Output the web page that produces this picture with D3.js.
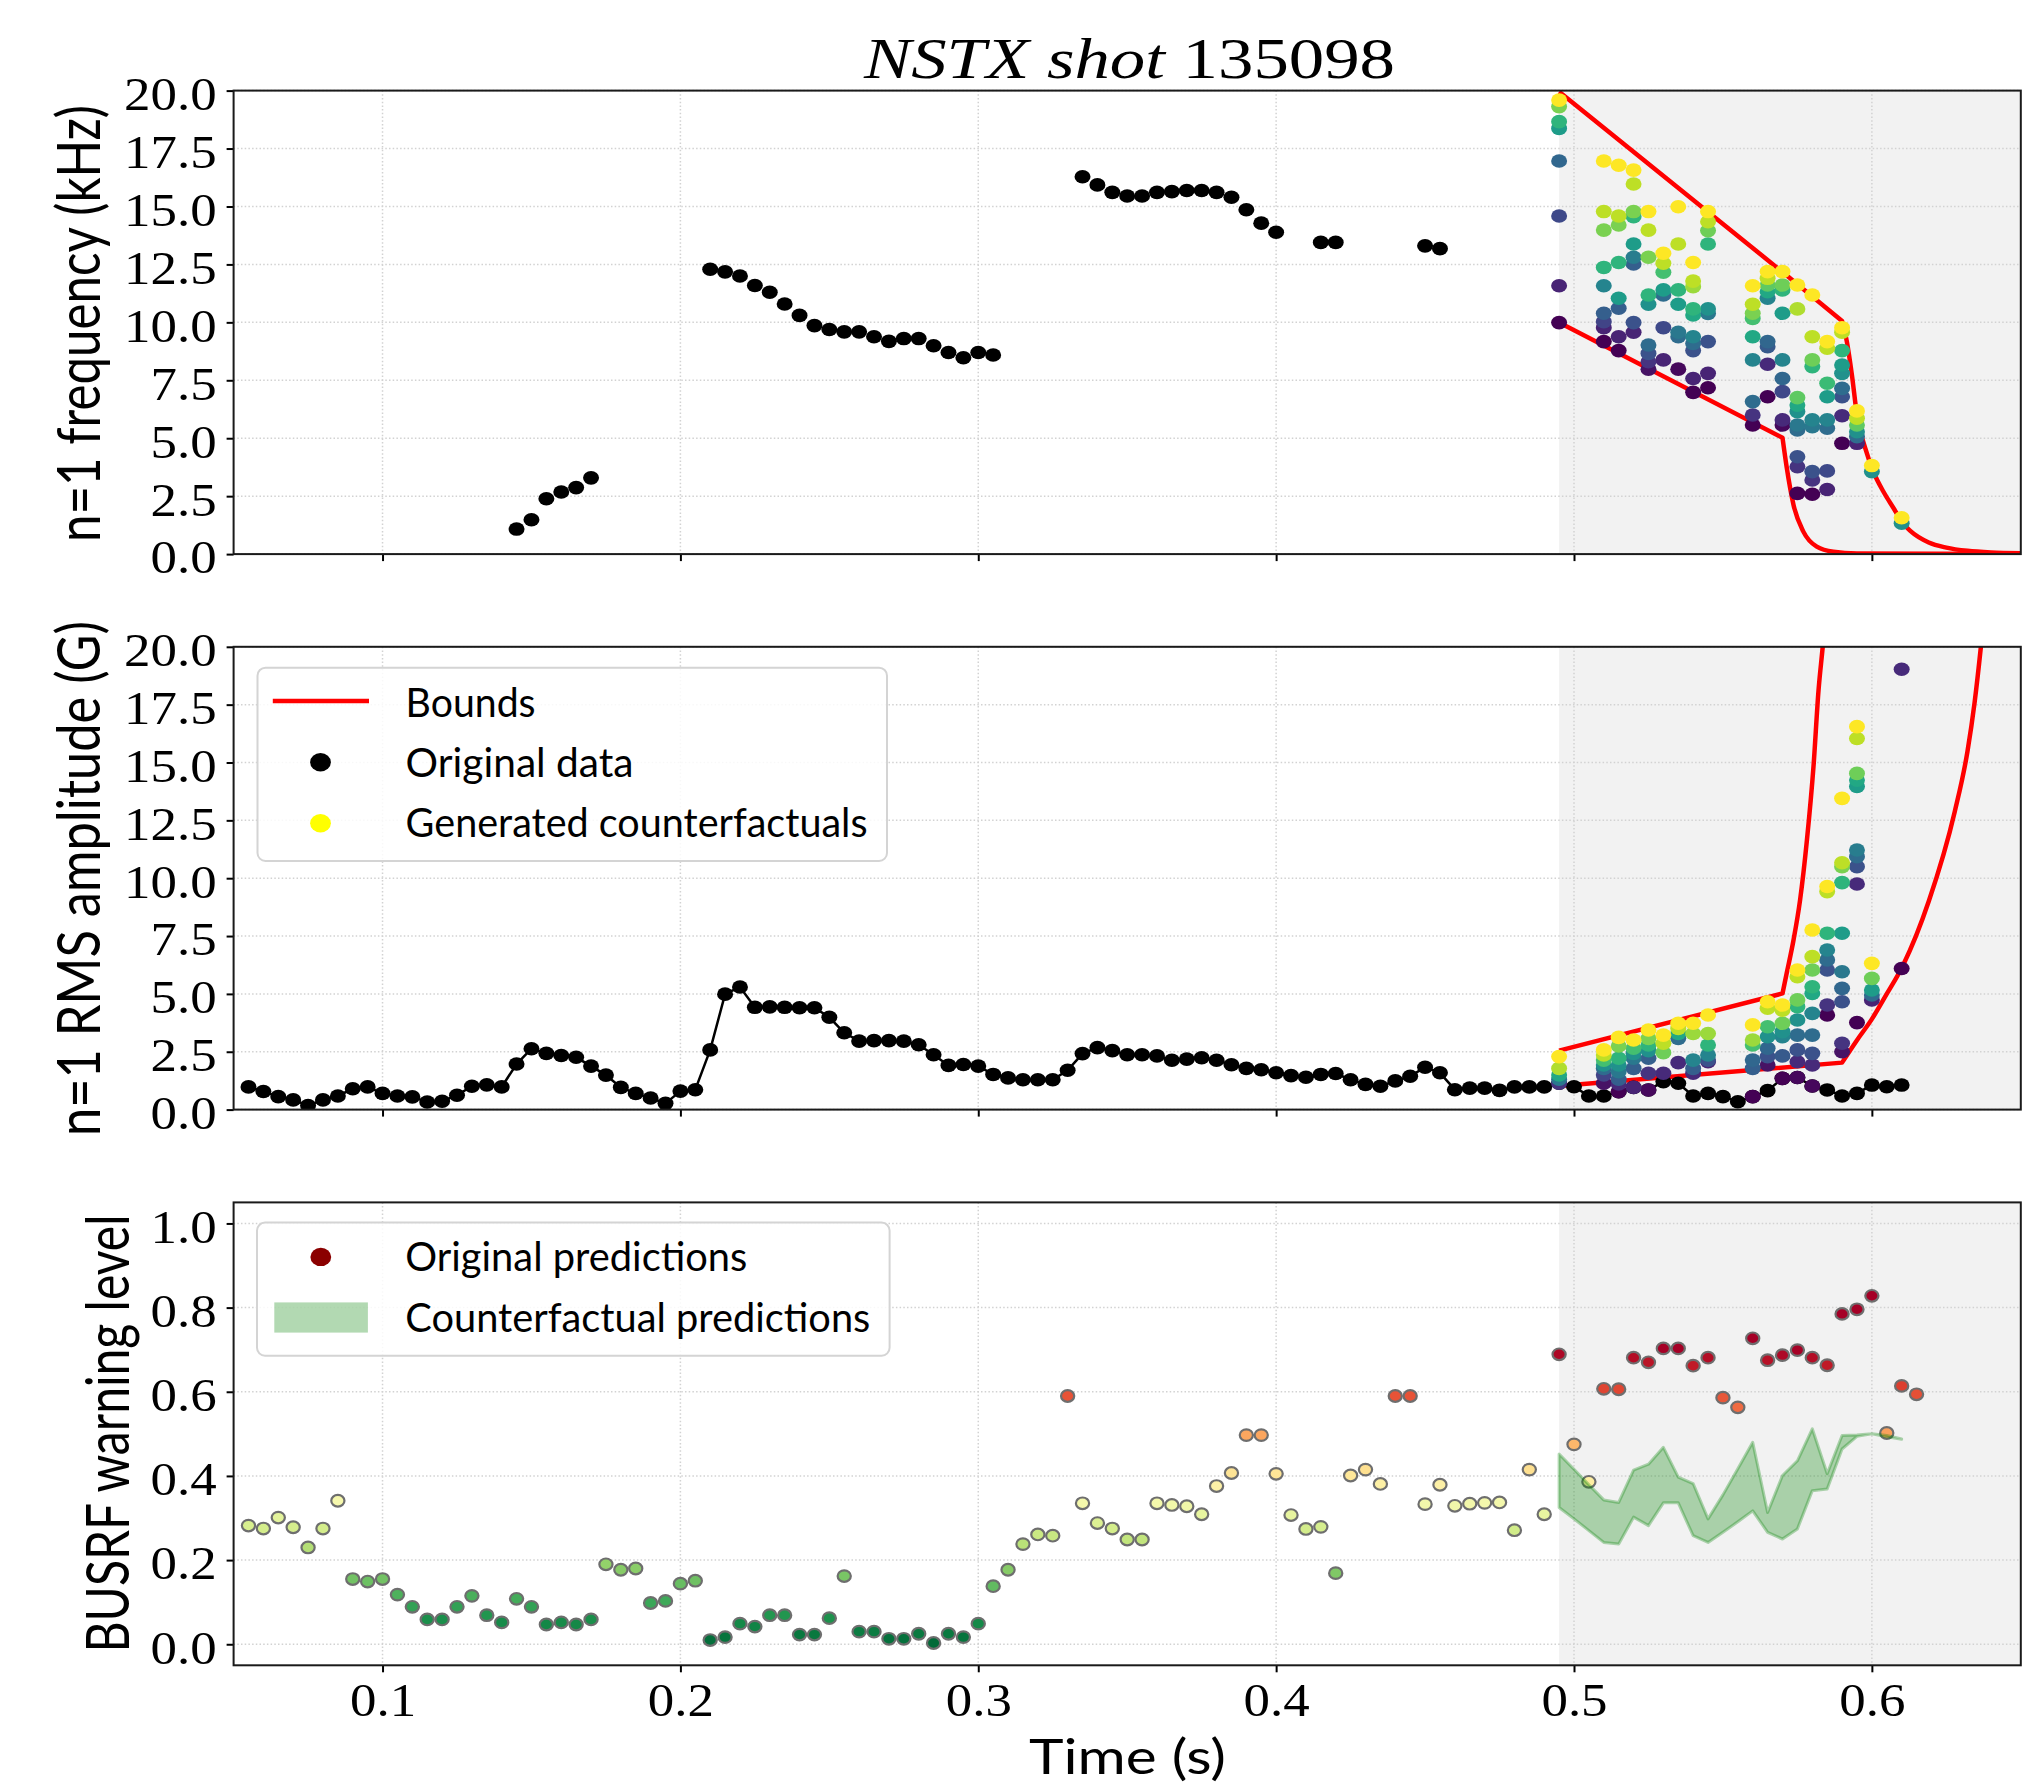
<!DOCTYPE html>
<html>
<head>
<meta charset="utf-8">
<script src="https://cdn.jsdelivr.net/npm/d3@7"></script>
<style>
  body { margin: 0; background: #fff; }
</style>
</head>
<body>
<svg id="chart" width="2024" height="1788"></svg>
<script>
// ---- data ----
var dt = 0.005;

// n=1 frequency, original data (kHz)
var freqTimes = [0.145, 0.15, 0.155, 0.16, 0.165, 0.17,
  0.21, 0.215, 0.22, 0.225, 0.23, 0.235, 0.24, 0.245, 0.25, 0.255, 0.26, 0.265, 0.27, 0.275, 0.28, 0.285, 0.29, 0.295, 0.3, 0.305,
  0.335, 0.34, 0.345, 0.35, 0.355, 0.36, 0.365, 0.37, 0.375, 0.38, 0.385, 0.39, 0.395, 0.4,
  0.415, 0.42, 0.45, 0.455];
var freqValues = [1.08, 1.48, 2.39, 2.68, 2.87, 3.29,
  12.29, 12.18, 12.0, 11.59, 11.3, 10.79, 10.3, 9.86, 9.69, 9.59, 9.59, 9.38, 9.18, 9.3, 9.3, 8.99, 8.7, 8.47, 8.7, 8.59,
  16.28, 15.93, 15.61, 15.45, 15.45, 15.61, 15.64, 15.69, 15.69, 15.61, 15.4, 14.86, 14.28, 13.89,
  13.45, 13.45, 13.3, 13.18];

// n=1 RMS amplitude, original data (G), every 5 ms from 0.055 s
var ampStart = 0.055;
var ampValues = [0.98, 0.78, 0.56, 0.42, 0.18, 0.42, 0.59, 0.9, 0.98, 0.7,
  0.59, 0.55, 0.33, 0.36, 0.62, 1.01, 1.07, 0.98, 1.97, 2.63,
  2.43, 2.34, 2.26, 1.88, 1.49, 0.96, 0.7, 0.5, 0.27, 0.8,
  0.86, 2.58, 4.99, 5.3, 4.42, 4.44, 4.42, 4.4, 4.4, 3.99,
  3.32, 2.96, 2.98, 2.98, 2.96, 2.8, 2.37, 1.91, 1.95, 1.88,
  1.52, 1.37,
  1.29, 1.29, 1.29, 1.7, 2.42, 2.68, 2.55, 2.37, 2.37, 2.32, 2.13, 2.18, 2.24, 2.13, 1.94, 1.78, 1.72, 1.59,
  1.47, 1.4, 1.52, 1.56, 1.29, 1.09, 1.01, 1.24, 1.44, 1.83, 1.59, 0.86, 0.93, 0.93, 0.83, 0.98, 0.98, 0.98,
  1.14, 0.99, 0.59, 0.59, 0.77, 0.96, 0.85, 1.21, 1.14, 0.59, 0.7, 0.56, 0.34, 0.56, 0.82, 1.35, 1.39, 1.02,
  0.85, 0.59, 0.7, 1.06, 0.99, 1.06];

// BUSRF warning level, original predictions, every 5 ms from 0.055 s
var warnStart = 0.055;
var warnValues = [0.282, 0.275, 0.301, 0.278, 0.23, 0.275, 0.341, 0.155, 0.149, 0.155,
  0.118, 0.089, 0.059, 0.059, 0.089, 0.115, 0.069, 0.052, 0.108, 0.089,
  0.047, 0.052, 0.047, 0.059, 0.19, 0.177, 0.18, 0.098, 0.103, 0.144,
  0.151, 0.01, 0.017, 0.049, 0.042, 0.069, 0.069, 0.023, 0.023, 0.062,
  0.162, 0.03, 0.03, 0.013, 0.013, 0.025, 0.003, 0.025, 0.017, 0.049,
  0.138, 0.177,
  0.238, 0.261, 0.258, 0.59, 0.335, 0.288, 0.275, 0.249, 0.249, 0.335,
  0.331, 0.328, 0.309, 0.376, 0.407, 0.497, 0.497, 0.405, 0.307, 0.274,
  0.279, 0.169, 0.401, 0.415, 0.381, 0.59, 0.59, 0.333, 0.379, 0.329,
  0.334, 0.336, 0.337, 0.271, 0.415, 0.309, 0.689, 0.475, 0.386, 0.607,
  0.606, 0.681, 0.67, 0.703, 0.703, 0.662, 0.681, 0.586, 0.563, 0.727,
  0.675, 0.687, 0.699, 0.681, 0.663, 0.785, 0.796, 0.828, 0.502, 0.614, 0.594];

// counterfactual prediction band
var bandTimes = [0.495, 0.5, 0.505, 0.51, 0.515, 0.52, 0.525, 0.53, 0.535, 0.54, 0.545, 0.55,
  0.555, 0.56, 0.565, 0.57, 0.575, 0.58, 0.585, 0.59, 0.595, 0.6, 0.605, 0.61];
var bandUpper = [0.452, 0.416, 0.379, 0.343, 0.337, 0.414, 0.428, 0.468, 0.397, 0.382, 0.298, 0.355,
  0.417, 0.48, 0.313, 0.401, 0.436, 0.512, 0.405, 0.496, 0.497, 0.5, 0.496, 0.488];
var bandLower = [0.325, 0.298, 0.27, 0.242, 0.238, 0.302, 0.282, 0.336, 0.336, 0.258, 0.242, 0.266,
  0.291, 0.317, 0.266, 0.25, 0.274, 0.365, 0.369, 0.464, 0.494, 0.5, 0.493, 0.487];

// bounds (straight up to the kink, smooth after it)
var freqUpperT = [0.495, 0.57, 0.59, 0.5916, 0.5933, 0.595, 0.5978, 0.6005, 0.6039, 0.6073, 0.6106, 0.6129, 0.6191, 0.625, 0.6321, 0.64, 0.65];
var freqUpperV = [19.95, 12.17, 10.06, 9.17, 7.73, 6.0, 4.56, 3.56, 2.69, 1.98, 1.3, 1.0, 0.5, 0.28, 0.14, 0.07, 0.04];
var freqLowerT = [0.495, 0.57, 0.5714, 0.5737, 0.577, 0.5815, 0.5871, 0.595, 0.65];
var freqLowerV = [9.99, 5.02, 3.75, 2.12, 0.97, 0.32, 0.1, 0.03, 0.0];
var ampUpperT = [0.495, 0.57, 0.5714, 0.5737, 0.5759, 0.5782, 0.5804, 0.5821, 0.5835, 0.585];
var ampUpperV = [2.55, 5.02, 5.89, 7.33, 9.06, 11.65, 14.82, 18.13, 20.0, 22.2];
var ampLowerT = [0.495, 0.59, 0.595, 0.6, 0.605, 0.6104, 0.6191, 0.6278, 0.6321, 0.6345, 0.6366, 0.638];
var ampLowerV = [1.02, 2.03, 3.0, 3.91, 5.0, 6.22, 9.0, 12.86, 15.48, 17.6, 20.0, 21.8];

// generated counterfactuals: per time, [value, colour level 0..1]
var cfTimes = [0.495, 0.51, 0.515, 0.52, 0.525, 0.53, 0.535, 0.54, 0.545, 0.56,
  0.565, 0.57, 0.575, 0.58, 0.585, 0.59, 0.595, 0.6, 0.61];
var cfFreq = [
  [[19.59, 1], [19.31, 0.8], [18.66, 0.65], [18.37, 0.55], [16.96, 0.33], [14.59, 0.22], [11.58, 0.1], [9.99, 0]],
  [[16.96, 1], [14.78, 0.9], [13.98, 0.8], [12.37, 0.65], [11.58, 0.45], [10.39, 0.3], [10.03, 0.2], [9.77, 0.1], [9.17, 0]],
  [[16.78, 1], [14.59, 0.9], [14.2, 0.8], [12.58, 0.65], [11.04, 0.55], [10.61, 0.3], [9.38, 0.1], [8.78, 0]],
  [[16.57, 1], [15.97, 0.9], [14.78, 0.8], [14.56, 0.65], [13.38, 0.55], [12.81, 0.42], [12.52, 0.3], [9.99, 0.25], [9.57, 0.1]],
  [[14.78, 1], [13.98, 0.9], [12.81, 0.8], [11.18, 0.65], [10.78, 0.5], [9.02, 0.35], [8.66, 0.25], [8.3, 0.15], [7.98, 0.05]],
  [[12.98, 1], [12.55, 0.9], [12.16, 0.7], [11.4, 0.55], [11.18, 0.35], [9.77, 0.22], [8.38, 0.1]],
  [[14.99, 1], [13.38, 0.9], [11.4, 0.65], [10.78, 0.55], [9.57, 0.4], [9.38, 0.35], [7.98, 0.02]],
  [[12.58, 1], [11.78, 0.9], [11.54, 0.85], [10.58, 0.65], [10.32, 0.6], [9.38, 0.45], [9.09, 0.35], [8.78, 0.25], [7.58, 0.1], [6.98, 0]],
  [[14.78, 1], [14.34, 0.9], [13.96, 0.78], [13.38, 0.65], [10.58, 0.5], [10.38, 0.4], [9.17, 0.25], [7.8, 0.1], [7.18, 0]],
  [[11.58, 1], [10.78, 0.9], [10.39, 0.8], [10.17, 0.7], [9.38, 0.6], [8.38, 0.45], [6.58, 0.35], [6.0, 0.15], [5.57, 0]],
  [[12.19, 1], [11.9, 0.9], [11.61, 0.75], [11.32, 0.6], [11.04, 0.45], [9.17, 0.33], [8.95, 0.28], [8.19, 0.12], [6.79, 0]],
  [[12.19, 1], [11.61, 0.78], [11.4, 0.65], [10.39, 0.55], [8.38, 0.45], [7.58, 0.33], [7.01, 0.22], [5.79, 0.12], [5.57, 0.02]],
  [[11.61, 1], [10.58, 0.88], [6.75, 0.75], [6.43, 0.6], [6.15, 0.5], [5.57, 0.4], [5.36, 0.35], [4.2, 0.25], [3.77, 0.15], [2.62, 0]],
  [[11.18, 1], [9.38, 0.9], [8.38, 0.78], [8.09, 0.65], [5.79, 0.45], [5.5, 0.4], [3.56, 0.25], [3.2, 0.15], [2.58, 0]],
  [[9.17, 1], [8.88, 0.9], [7.37, 0.68], [6.79, 0.55], [5.79, 0.45], [5.43, 0.35], [3.59, 0.22], [2.79, 0.1]],
  [[9.77, 1], [9.57, 0.9], [8.78, 0.65], [8.16, 0.55], [7.8, 0.5], [7.15, 0.35], [6.79, 0.25], [5.97, 0.12], [4.78, 0]],
  [[6.18, 1], [5.86, 0.9], [5.57, 0.75], [5.28, 0.5], [5.07, 0.35], [4.78, 0.1]],
  [[3.82, 1], [3.56, 0.5]],
  [[1.57, 1], [1.33, 0.5]]
];
var cfAmp = [
  [[2.29, 1], [1.78, 0.88], [1.5, 0.6], [1.31, 0.4], [1.14, 0.15]],
  [[2.58, 1], [2.36, 0.9], [2.14, 0.7], [1.93, 0.5], [1.78, 0.35], [1.5, 0.2], [1.14, 0.05]],
  [[3.12, 1], [2.75, 0.8], [2.22, 0.65], [1.93, 0.5], [1.64, 0.4], [1.31, 0.3], [1.11, 0.12], [0.77, 0]],
  [[3.01, 1], [2.65, 0.7], [2.43, 0.5], [2.22, 0.4], [1.78, 0.3], [0.96, 0.1]],
  [[3.44, 1], [3.08, 0.8], [2.79, 0.65], [2.55, 0.5], [2.22, 0.3], [1.57, 0.15], [0.85, 0.02]],
  [[3.22, 1], [2.87, 0.9], [2.46, 0.78], [1.57, 0.12]],
  [[3.73, 1], [3.51, 0.9], [3.29, 0.6], [3.08, 0.35], [2.03, 0.12]],
  [[3.73, 1], [3.29, 0.85], [2.14, 0.45], [1.78, 0.3], [1.57, 0.12]],
  [[4.09, 1], [3.29, 0.85], [2.79, 0.65], [2.36, 0.45], [2.14, 0.25], [2.07, 0.1]],
  [[3.66, 1], [3.01, 0.85], [2.79, 0.7], [2.14, 0.33], [1.78, 0.3], [0.56, 0]],
  [[4.66, 1], [4.38, 0.9], [3.58, 0.7], [3.15, 0.5], [2.65, 0.33], [2.29, 0.25], [1.93, 0.05]],
  [[4.52, 1], [4.3, 0.9], [3.73, 0.78], [3.37, 0.5], [3.15, 0.45], [2.32, 0.28], [1.35, 0]],
  [[6.03, 1], [5.74, 0.9], [4.74, 0.78], [4.45, 0.65], [3.87, 0.5], [3.22, 0.35], [2.58, 0.25], [2.07, 0.12], [1.39, 0.02]],
  [[7.76, 1], [6.61, 0.9], [6.03, 0.78], [5.31, 0.65], [5.02, 0.6], [4.16, 0.45], [3.22, 0.35], [2.43, 0.25], [1.93, 0.12], [1.02, 0.02]],
  [[9.64, 1], [9.42, 0.9], [7.62, 0.65], [6.9, 0.45], [6.47, 0.35], [6.03, 0.25], [4.52, 0.15], [4.09, 0]],
  [[13.45, 1], [10.67, 0.9], [10.5, 0.8], [9.81, 0.65], [7.62, 0.55], [5.96, 0.4], [5.24, 0.33], [4.66, 0.25], [2.87, 0.15], [2.5, 0.05]],
  [[16.55, 1], [16.04, 0.9], [14.53, 0.78], [14.24, 0.6], [13.96, 0.55], [11.22, 0.42], [10.93, 0.35], [10.5, 0.25], [9.75, 0.12], [3.76, 0]],
  [[6.32, 1], [5.67, 0.78], [5.17, 0.55], [4.95, 0.35], [4.74, 0.1]],
  [[19.03, 0.12], [6.1, 0]]
];

var xTicks = [0.1, 0.2, 0.3, 0.4, 0.5, 0.6];
var rangeTicks = [0, 2.5, 5, 7.5, 10, 12.5, 15, 17.5, 20];
var warnTicks = [0, 0.2, 0.4, 0.6, 0.8, 1.0];
var shadeFrom = 0.495;

// ---- layout ----
var svg = d3.select("#chart");
var xLeft = 233.6, xRight = 2020.8;
var x = d3.scaleLinear().domain([0.05, 0.65]).range([xLeft, xRight]);

var serif = "'Liberation Serif', 'DejaVu Serif', serif";
var sans = "Lato, 'Open Sans', 'DejaVu Sans', sans-serif";

svg.append("rect").attr("width", 2024).attr("height", 1788).attr("fill", "#fff");

function makePanel(id, top, bottom, yDomain, yTicks) {
  var y = d3.scaleLinear().domain(yDomain).range([bottom, top]);
  var g = svg.append("g").attr("id", id);

  svg.append("clipPath").attr("id", id + "-clip").append("rect")
    .attr("x", xLeft).attr("y", top)
    .attr("width", xRight - xLeft).attr("height", bottom - top);

  g.append("rect")
    .attr("x", x(shadeFrom)).attr("y", top)
    .attr("width", xRight - x(shadeFrom)).attr("height", bottom - top)
    .attr("fill", "#f2f2f2");

  g.selectAll(".vgrid").data(xTicks).enter().append("line")
    .attr("x1", function(d) { return x(d); }).attr("x2", function(d) { return x(d); })
    .attr("y1", top).attr("y2", bottom);
  g.selectAll(".hgrid").data(yTicks).enter().append("line")
    .attr("x1", xLeft).attr("x2", xRight)
    .attr("y1", function(d) { return y(d); }).attr("y2", function(d) { return y(d); });
  g.selectAll("line")
    .attr("stroke", "#d2d2d2").attr("stroke-width", 1.5).attr("stroke-dasharray", "1.5,2.2");

  var plot = g.append("g").attr("clip-path", "url(#" + id + "-clip)");
  return { g: g, plot: plot, y: y, top: top, bottom: bottom };
}

function finishPanel(p, yTicks, yFmt, showXLabels) {
  var ax = p.g.append("g").attr("transform", "translate(" + xLeft + ",0)")
    .call(d3.axisLeft(p.y).tickValues(yTicks).tickSize(7).tickSizeOuter(0).tickFormat(yFmt));
  ax.select(".domain").remove();
  ax.selectAll("line").attr("stroke", "#000").attr("stroke-width", 2);
  ax.attr("font-family", serif).attr("font-size", 46);
  ax.selectAll("text").attr("x", -14.8).attr("dy", "0.41em")
    .attr("transform", "scale(1.15,1)").attr("fill", "#000");

  var bx = p.g.append("g").attr("transform", "translate(0," + p.bottom + ")")
    .call(d3.axisBottom(x).tickValues(xTicks).tickSize(7).tickSizeOuter(0)
      .tickFormat(showXLabels ? d3.format(".1f") : ""));
  bx.select(".domain").remove();
  bx.selectAll("line").attr("stroke", "#000").attr("stroke-width", 2);
  bx.attr("font-family", serif).attr("font-size", 46);
  bx.selectAll("text").attr("y", 51.2).attr("dy", 0)
    .attr("transform", "scale(1.15,1)").attr("fill", "#000");

  p.g.append("rect")
    .attr("x", xLeft).attr("y", p.top)
    .attr("width", xRight - xLeft).attr("height", p.bottom - p.top)
    .attr("fill", "none").attr("stroke", "#1a1a1a").attr("stroke-width", 2);
}

// straight segment up to the kink, smooth curve after it
function boundLine(p, ts, vs, kink) {
  var pts = ts.map(function(t, i) { return [t, vs[i]]; });
  var straight = d3.line().x(function(d) { return x(d[0]); }).y(function(d) { return p.y(d[1]); });
  var smooth = d3.line().curve(d3.curveMonotoneX)
    .x(function(d) { return x(d[0]); }).y(function(d) { return p.y(d[1]); });
  var d = straight(pts.slice(0, kink + 1)) + smooth(pts.slice(kink)).replace(/^M[^CLQ]*/, "");
  p.plot.append("path")
    .attr("d", d).attr("fill", "none")
    .attr("stroke", "#ff0000").attr("stroke-width", 4.5).attr("stroke-linejoin", "round");
}

function counterfactuals(p, cols) {
  var pts = [];
  cols.forEach(function(col, i) {
    col.forEach(function(c) { pts.push({ t: cfTimes[i], v: c[0], c: c[1] }); });
  });
  pts.sort(function(a, b) { return a.c - b.c; });
  p.plot.selectAll(".cf").data(pts).enter().append("ellipse")
    .attr("cx", function(d) { return x(d.t); })
    .attr("cy", function(d) { return p.y(d.v); })
    .attr("rx", 8).attr("ry", 6.8)
    .attr("fill", function(d) { return d3.interpolateViridis(d.c); });
}

function legendBox(g, x0, y0, x1, y1) {
  g.append("rect").attr("x", x0).attr("y", y0).attr("width", x1 - x0).attr("height", y1 - y0)
    .attr("rx", 8).attr("fill", "#fff").attr("fill-opacity", 0.85)
    .attr("stroke", "#d4d4d4").attr("stroke-width", 2);
}

function legendText(g, xx, yy, label, len) {
  g.append("text").attr("x", xx).attr("y", yy)
    .attr("font-family", sans).attr("font-size", 40)
    .attr("textLength", len).attr("lengthAdjust", "spacingAndGlyphs")
    .text(label);
}

// ---- top: frequency ----
var p1 = makePanel("freq", 90.6, 554.1, [0, 20], rangeTicks);
boundLine(p1, freqUpperT, freqUpperV, 2);
boundLine(p1, freqLowerT, freqLowerV, 1);
p1.plot.selectAll(".orig").data(freqTimes).enter().append("ellipse")
  .attr("cx", function(d) { return x(d); })
  .attr("cy", function(d, i) { return p1.y(freqValues[i]); })
  .attr("rx", 8).attr("ry", 6.8).attr("fill", "#000");
counterfactuals(p1, cfFreq);
finishPanel(p1, rangeTicks, d3.format(".1f"), false);

// ---- middle: amplitude ----
var p2 = makePanel("amp", 646.8, 1109.6, [0, 20], rangeTicks);
boundLine(p2, ampUpperT, ampUpperV, 1);
boundLine(p2, ampLowerT, ampLowerV, 1);
var ampPts = ampValues.map(function(v, i) { return [ampStart + i * dt, v]; });
p2.plot.append("path").datum(ampPts)
  .attr("d", d3.line().x(function(d) { return x(d[0]); }).y(function(d) { return p2.y(d[1]); }))
  .attr("fill", "none").attr("stroke", "#000").attr("stroke-width", 2.5);
p2.plot.selectAll(".orig").data(ampPts).enter().append("ellipse")
  .attr("cx", function(d) { return x(d[0]); })
  .attr("cy", function(d) { return p2.y(d[1]); })
  .attr("rx", 8).attr("ry", 6.8).attr("fill", "#000");
counterfactuals(p2, cfAmp);
finishPanel(p2, rangeTicks, d3.format(".1f"), false);

var leg1 = svg.append("g");
legendBox(leg1, 257.5, 667.7, 887, 861);
leg1.append("line").attr("x1", 272.8).attr("x2", 369).attr("y1", 701).attr("y2", 701)
  .attr("stroke", "#ff0000").attr("stroke-width", 4.5);
leg1.append("ellipse").attr("cx", 320.5).attr("cy", 762.3).attr("rx", 10.4).attr("ry", 9.2).attr("fill", "#000");
leg1.append("ellipse").attr("cx", 320.5).attr("cy", 823.3).attr("rx", 10.4).attr("ry", 9.2).attr("fill", "#ffff00");
legendText(leg1, 405.6, 716.7, "Bounds", 130);
legendText(leg1, 405.6, 776.7, "Original data", 228);
legendText(leg1, 405.6, 836.7, "Generated counterfactuals", 462);

// ---- bottom: warning level ----
var p3 = makePanel("warn", 1202.4, 1665.3, [-0.05, 1.05], warnTicks);
var warnPts = warnValues.map(function(v, i) { return [warnStart + i * dt, v]; });
p3.plot.selectAll(".pred").data(warnPts).enter().append("ellipse")
  .attr("cx", function(d) { return x(d[0]); })
  .attr("cy", function(d) { return p3.y(d[1]); })
  .attr("rx", 6.6).attr("ry", 5.8)
  .attr("fill", function(d) { return d3.interpolateRdYlGn(1 - Math.min(1, d[1] / 0.7)); })
  .attr("stroke", "#6e6e6e").attr("stroke-width", 2.2);
var band = bandTimes.map(function(t, i) { return [t, bandLower[i], bandUpper[i]]; });
p3.plot.append("path").datum(band)
  .attr("d", d3.area().x(function(d) { return x(d[0]); })
    .y0(function(d) { return p3.y(d[1]); }).y1(function(d) { return p3.y(d[2]); }))
  .attr("fill", "green").attr("fill-opacity", 0.3)
  .attr("stroke", "green").attr("stroke-opacity", 0.3).attr("stroke-width", 3)
  .attr("stroke-linejoin", "round");
finishPanel(p3, warnTicks, d3.format(".1f"), true);

var leg2 = svg.append("g");
legendBox(leg2, 257, 1222.6, 889.6, 1355.7);
leg2.append("ellipse").attr("cx", 320.8).attr("cy", 1256.9).attr("rx", 10.4).attr("ry", 9.2).attr("fill", "#8b0000");
leg2.append("rect").attr("x", 274.3).attr("y", 1302.4).attr("width", 93.6).attr("height", 30.2)
  .attr("fill", "green").attr("fill-opacity", 0.3);
legendText(leg2, 405.3, 1271, "Original predictions", 342);
legendText(leg2, 405.3, 1332, "Counterfactual predictions", 465);

// ---- titles and axis labels ----
var title = svg.append("text").attr("x", 864).attr("y", 78.3)
  .attr("font-family", serif).attr("font-size", 58)
  .attr("textLength", 531).attr("lengthAdjust", "spacingAndGlyphs");
title.append("tspan").attr("font-style", "italic").text("NSTX shot");
title.append("tspan").text(" 135098");

function yLabel(label, bx, cy, len) {
  svg.append("text")
    .attr("transform", "translate(" + bx + "," + cy + ") scale(1.15,1) rotate(-90)")
    .attr("text-anchor", "middle")
    .attr("font-family", sans).attr("font-size", 52)
    .attr("textLength", len).attr("lengthAdjust", "spacingAndGlyphs")
    .text(label);
}
yLabel("n=1 frequency (kHz)", 100, 323.5, 437);
yLabel("n=1 RMS amplitude (G)", 100, 878.5, 515);
yLabel("BUSRF warning level", 129, 1433.5, 438);

svg.append("text").attr("x", 1127.5).attr("y", 1774)
  .attr("text-anchor", "middle")
  .attr("font-family", sans).attr("font-size", 48.6)
  .attr("textLength", 197).attr("lengthAdjust", "spacingAndGlyphs")
  .text("Time (s)");
</script>
</body>
</html>
